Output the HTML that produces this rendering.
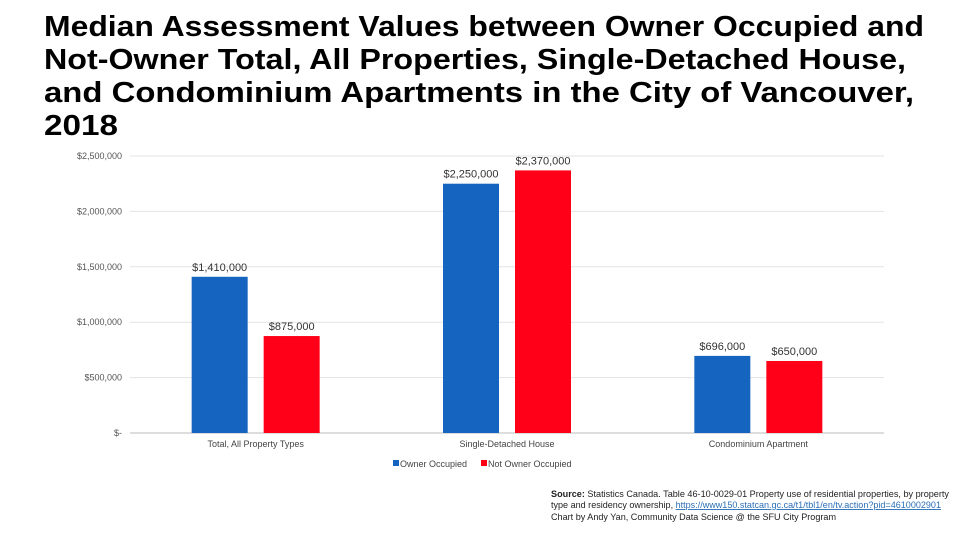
<!DOCTYPE html>
<html><head><meta charset="utf-8"><style>
html,body{margin:0;padding:0;background:#fff;}
svg{display:block;font-family:"Liberation Sans",Arial,sans-serif;}
</style></head><body>
<svg id="chart" width="960" height="547" viewBox="0 0 960 547">
<g font-weight="bold" font-size="29" fill="#000">
<text x="44" y="36" textLength="880" lengthAdjust="spacingAndGlyphs">Median Assessment Values between Owner Occupied and</text>
<text x="44" y="69" textLength="862" lengthAdjust="spacingAndGlyphs">Not-Owner Total, All Properties, Single-Detached House,</text>
<text x="44" y="102" textLength="870" lengthAdjust="spacingAndGlyphs">and Condominium Apartments in the City of Vancouver,</text>
<text x="44" y="135" textLength="74" lengthAdjust="spacingAndGlyphs">2018</text>
</g>
<g id="grid"></g>
<g id="yticks"></g>
<g id="bars"></g>
<g id="xlabels"></g>
<g font-size="9" fill="#444">
<g><rect x="393" y="460" width="6" height="6" fill="#1565c0"/><text x="400" y="467">Owner Occupied</text></g>
<g><rect x="481" y="460" width="6" height="6" fill="#ff0018"/><text x="488" y="467">Not Owner Occupied</text></g>
</g>
<g font-size="9.3" fill="#222">
<text x="551" y="497" textLength="398" lengthAdjust="spacingAndGlyphs"><tspan font-weight="bold">Source:</tspan>  Statistics Canada. Table 46-10-0029-01 Property use of residential properties, by property</text>
<text x="551" y="508" textLength="390" lengthAdjust="spacingAndGlyphs">type and residency ownership, <tspan fill="#2a6fb8" text-decoration="underline">https://www150.statcan.gc.ca/t1/tbl1/en/tv.action?pid=4610002901</tspan></text>
<text x="551" y="520" textLength="285" lengthAdjust="spacingAndGlyphs">Chart by Andy Yan, Community Data Science @ the SFU City Program</text>
</g>
</svg>
<script>
const categories=["Total, All Property Types","Single-Detached House","Condominium Apartment"];
const ownerValues=[1410000,2250000,696000];
const notOwnerValues=[875000,650000*0+2370000,650000];
const ownerLabels=["$1,410,000","$2,250,000","$696,000"];
const notOwnerLabels=["$875,000","$2,370,000","$650,000"];
const tickValues=[0,500000,1000000,1500000,2000000,2500000];
const tickLabels=["$-","$500,000","$1,000,000","$1,500,000","$2,000,000","$2,500,000"];
notOwnerValues[1]=2370000;
const NS="http://www.w3.org/2000/svg";
const X0=130,X1=884,Y0=433,Y1=156,YMAX=2500000;
const y=v=>Y0-(v/YMAX)*(Y0-Y1);
const band=(X1-X0)/categories.length;
const cx=i=>X0+band*(i+0.5);
function mk(tag,attrs,parent){const e=document.createElementNS(NS,tag);for(const k in attrs)e.setAttribute(k,attrs[k]);parent.appendChild(e);return e;}
const grid=document.getElementById('grid'),yt=document.getElementById('yticks'),bars=document.getElementById('bars'),xl=document.getElementById('xlabels');
tickValues.forEach((v,i)=>{
 const l=mk('line',{x1:X0,x2:X1,y1:y(v),y2:y(v),stroke:i===0?'#bbb':'#e3e3e3','stroke-width':1},grid);
 
 
 const t=mk('text',{x:122,y:y(v)+3,'text-anchor':'end','font-size':9,fill:'#555'},yt);
 t.textContent=tickLabels[i];
 
 
});
const BW=56;
categories.forEach((c,i)=>{
 const c0=cx(i);
 [[ownerValues,ownerLabels,'#1565c0',c0-64,'owner'],[notOwnerValues,notOwnerLabels,'#ff0018',c0+8,'not-owner']].forEach(([vals,labs,col,x,nm])=>{
  const r=mk('rect',{x:x,y:y(vals[i]),width:BW,height:Y0-y(vals[i]),fill:col},bars);
  
  
  const t=mk('text',{x:x+BW/2,y:y(vals[i])-6,'text-anchor':'middle','font-size':11,fill:'#333'},bars);
  t.textContent=labs[i];
  
  
 });
 const t=mk('text',{x:c0,y:447,'text-anchor':'middle','font-size':9,fill:'#444'},xl);
 t.textContent=c;
 
 
});
</script>
</body></html>
